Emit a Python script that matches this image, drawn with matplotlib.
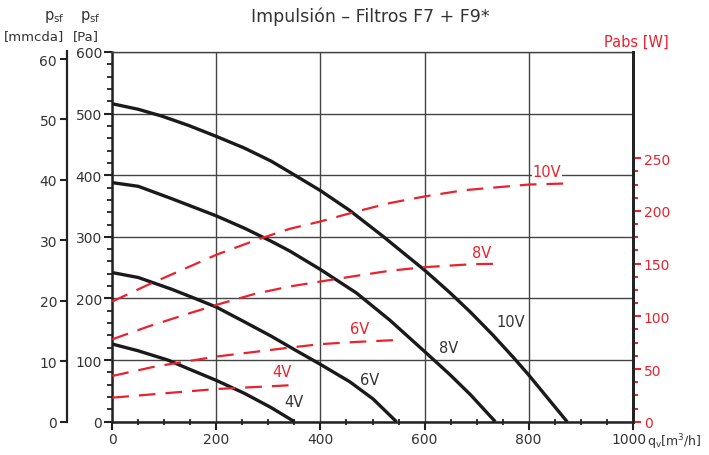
import matplotlib
matplotlib.use("Agg")
import matplotlib.pyplot as plt
from matplotlib.ticker import MultipleLocator, FixedLocator
from matplotlib.transforms import ScaledTranslation

# ---------------- data ----------------
# pressure curves (Pa) vs airflow q_v (m3/h)
q_10v = [0, 50, 95, 146, 200, 254, 305, 341, 400, 456, 520, 565, 600, 648, 688, 732, 771, 800, 835, 874]
p_10v = [516, 507, 496, 481, 463, 444, 423, 405, 375, 343, 301, 270, 246, 210, 178, 140, 104, 76, 40, 0]
q_8v = [0, 50, 114, 200, 254, 305, 341, 400, 469, 533, 600, 648, 688, 736]
p_8v = [388, 382, 362, 334, 314, 293, 277, 247, 209, 165, 114, 77, 44, 0]
q_6v = [0, 50, 114, 159, 200, 254, 305, 350, 400, 456, 501, 546]
p_6v = [242, 234, 215, 200, 186, 162, 139, 117, 93, 65, 37, 0]
q_4v = [0, 50, 107, 146, 200, 254, 305, 350]
p_4v = [126, 115, 100, 86, 67, 46, 23, 0]

# absorbed power curves (W)
qw_10v = [0, 69, 127, 200, 280, 341, 400, 469, 533, 600, 674, 707, 800, 870]
w_10v = [114, 130, 142.5, 158.4, 173, 183, 190, 199.4, 207.4, 213.7, 219.5, 221, 225, 226]
qw_8v = [0, 69, 146, 200, 274, 341, 400, 469, 533, 600, 693, 739]
w_8v = [78.2, 90.3, 102.5, 110.8, 121.3, 128.3, 133, 138.4, 143.2, 146.6, 149.5, 149.8]
qw_6v = [0, 82, 200, 341, 400, 469, 552]
w_6v = [43.4, 52.3, 61.8, 70.3, 73.6, 75.7, 77.6]
qw_4v = [0, 114, 200, 350]
w_4v = [22.8, 27.5, 31.0, 34.8]

x_ticks = [0, 200, 400, 600, 800, 1000]
pa_ticks = [0, 100, 200, 300, 400, 500, 600]
mm_ticks = [0, 10, 20, 30, 40, 50, 60]
w_ticks = [0, 50, 100, 150, 200, 250]

title = "Impulsión – Filtros F7 + F9*"

RED = "#e8222e"
DARK = "#333333"
GRID = "#444444"

# ---------------- figure ----------------
fig = plt.figure(figsize=(7.09, 4.56), dpi=100)
L, R, B, T = 112.3 / 709, 632.7 / 709, 1 - 422.7 / 456, 1 - 53.0 / 456
ax = fig.add_axes([L, B, R - L, T - B])

ax.set_xlim(0, 1000)
ax.set_ylim(0, 600)
ax.set_xticks(x_ticks)
ax.set_yticks(pa_ticks)
ax.xaxis.set_minor_locator(MultipleLocator(50))
ax.yaxis.set_minor_locator(MultipleLocator(20))
ax.grid(True, which="major", color=GRID, lw=1.0)
ax.set_axisbelow(True)

for s in ["left", "bottom"]:
    ax.spines[s].set_linewidth(1.8)
    ax.spines[s].set_color("#222222")
ax.spines["top"].set_color(GRID)
ax.spines["top"].set_linewidth(1.0)
ax.spines["right"].set_linewidth(2.0)
ax.spines["right"].set_color("#222222")

ax.tick_params(axis="both", which="major", direction="out", length=5.5, width=1.5,
               color="#222222", labelsize=10, labelcolor=DARK, pad=2)
ax.tick_params(axis="y", which="minor", direction="out", length=3.5, width=1.3,
               color="#222222")
ax.tick_params(axis="x", which="minor", direction="inout", length=5, width=1.3,
               color="#222222")

# shift the "1000" label a little to the left so it does not touch the unit label
last = ax.xaxis.get_major_ticks()[-1].label1
last.set_transform(last.get_transform() + ScaledTranslation(-4 / 100, 0, fig.dpi_scale_trans))

for q, p in [(q_10v, p_10v), (q_8v, p_8v), (q_6v, p_6v), (q_4v, p_4v)]:
    ax.plot(q, p, color="#1a1a1a", lw=2.4, solid_capstyle="butt", solid_joinstyle="round", zorder=3)

black_labels = [("10V", 765, 162), ("8V", 647, 121), ("6V", 495, 68), ("4V", 349, 32)]
for t, x, y in black_labels:
    ax.text(x, y, t, color=DARK, fontsize=10.5, ha="center", va="center", zorder=4)

# ---------------- right axis (W) ----------------
ax2 = ax.twinx()
ax2.set_ylim(0, 600 * 0.616 / 1.0537)
ax2.yaxis.set_major_locator(FixedLocator(w_ticks))
ax2.yaxis.set_minor_locator(FixedLocator([v * 12.5 for v in range(21) if v % 4 != 0]))
for s in ["left", "top", "bottom"]:
    ax2.spines[s].set_visible(False)
ax2.spines["right"].set_linewidth(2.0)
ax2.spines["right"].set_color("#222222")
ax2.tick_params(axis="y", which="major", direction="out", length=6, width=1.5,
                color=RED, labelcolor=RED, labelsize=10, pad=2)
ax2.tick_params(axis="y", which="minor", direction="out", length=3.5, width=1.5, color=RED)

for q, w in [(qw_10v, w_10v), (qw_8v, w_8v), (qw_6v, w_6v), (qw_4v, w_4v)]:
    ax2.plot(q, w, color=RED, lw=1.6, dashes=(7.5, 4.5), zorder=3)

red_labels = [("10V", 835, 237), ("8V", 710, 161), ("6V", 476, 88), ("4V", 326, 48)]
for t, x, y in red_labels:
    ax2.text(x, y, t, color=RED, fontsize=10.5, ha="center", va="center", zorder=5,
             bbox=dict(facecolor="white", edgecolor="none", pad=0.5))

# ---------------- far-left axis (mmcda) ----------------
ax3 = ax.twinx()
ax3.set_ylim(0, 600 / 9.81)
ax3.set_yticks(mm_ticks)
ax3.yaxis.set_ticks_position("left")
ax3.yaxis.set_label_position("left")
for s in ["right", "top", "bottom"]:
    ax3.spines[s].set_visible(False)
ax3.spines["left"].set_position(("outward", 32.8))
ax3.spines["left"].set_linewidth(1.6)
ax3.spines["left"].set_color("#222222")
ax3.spines["left"].set_bounds(0, 61.3)
ax3.tick_params(axis="y", which="major", direction="out", length=5, width=1.5,
                color="#222222", labelsize=10, labelcolor=DARK, pad=2)

# ---------------- texts ----------------
fig.text(370 / 709, 1 - 17 / 456, title, ha="center", va="center", fontsize=12.5, color=DARK)
fig.text(54 / 709, 1 - 17 / 456, r"p$_\mathregular{sf}$", ha="center", va="center", fontsize=10.5, color=DARK)
fig.text(90 / 709, 1 - 17 / 456, r"p$_\mathregular{sf}$", ha="center", va="center", fontsize=10.5, color=DARK)
fig.text(34 / 709, 1 - 37 / 456, "[mmcda]", ha="center", va="center", fontsize=9.5, color=DARK)
fig.text(86 / 709, 1 - 37 / 456, "[Pa]", ha="center", va="center", fontsize=9.5, color=DARK)
fig.text(636 / 709, 1 - 42 / 456, "Pabs [W]", ha="center", va="center", fontsize=10.5, color=RED)
fig.text(647 / 709, 1 - 442 / 456, r"q$_\mathregular{v}$[m$^\mathregular{3}$/h]", ha="left",
         va="center", fontsize=9, color=DARK)

fig.savefig("out.png", dpi=100)
